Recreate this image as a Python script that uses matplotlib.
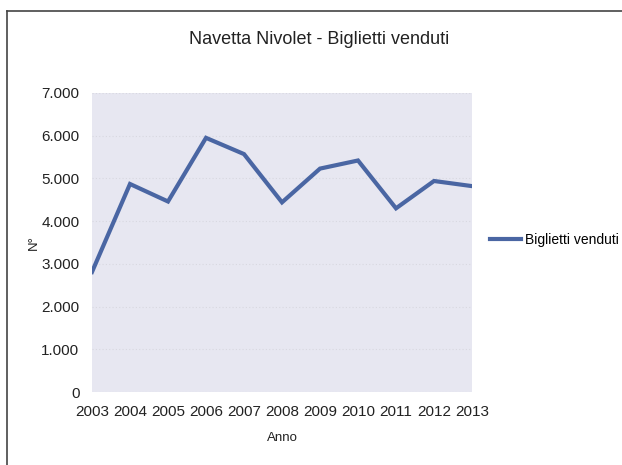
import matplotlib
matplotlib.use("Agg")
import matplotlib.pyplot as plt
from matplotlib.lines import Line2D
from matplotlib.ticker import FuncFormatter, MultipleLocator

years = ["2003", "2004", "2005", "2006", "2007", "2008", "2009", "2010", "2011", "2012", "2013"]
tickets = [2810, 4870, 4460, 5950, 5570, 4440, 5230, 5420, 4300, 4940, 4820]
series_name = "Biglietti venduti"
title = "Navetta Nivolet - Biglietti venduti"

plt.rcParams['font.family'] = ['Liberation Sans', 'DejaVu Sans']

W, H = 622, 465
fig = plt.figure(figsize=(W / 100, H / 100), dpi=100)
fig.patch.set_facecolor("white")

# outer frame lines (top & left)
fig.add_artist(Line2D([7 / W, 1.0], [1 - 11 / H, 1 - 11 / H], color="#444444", lw=1.2))
fig.add_artist(Line2D([7 / W, 7 / W], [0, 1 - 11 / H], color="#444444", lw=1.2))

left, right, top, bottom = 92, 472, 93, 392
ax = fig.add_axes([left / W, 1 - bottom / H, (right - left) / W, (bottom - top) / H])
ax.set_facecolor("#e7e7f1")
for s in ax.spines.values():
    s.set_visible(False)

x = list(range(len(years)))
ax.plot(x, tickets, color="#4a66a3", lw=3, solid_joinstyle="miter", label=series_name)
ax.set_xlim(0, len(years) - 1)
ax.set_ylim(0, 7000)
ax.yaxis.set_major_locator(MultipleLocator(1000))
ax.yaxis.set_major_formatter(FuncFormatter(lambda v, p: f"{int(v):,}".replace(",", ".")))
ax.set_xticks(x)
ax.set_xticklabels(years)
ax.grid(axis="y", color="#d8d8e0", lw=0.8, ls=(0, (1, 2)))
ax.set_axisbelow(True)
ax.tick_params(length=0, labelsize=11, colors="#222222")
ax.tick_params(axis="y", pad=9)
ax.tick_params(axis="x", pad=9)

ax.set_xlabel("Anno", fontsize=9.5, color="#222222", labelpad=10)
ax.set_ylabel("N°", fontsize=9.5, color="#222222", labelpad=1)

fig.text(319 / W, 1 - 40 / H, title, ha="center", va="center", fontsize=13, color="#222222")

ax.legend(loc="center left", bbox_to_anchor=(490 / W, 1 - 240 / H), bbox_transform=fig.transFigure,
          frameon=False, fontsize=10, handlelength=2.2, handletextpad=0.3, borderpad=0, borderaxespad=0)

fig.savefig("out.png", dpi=100)
